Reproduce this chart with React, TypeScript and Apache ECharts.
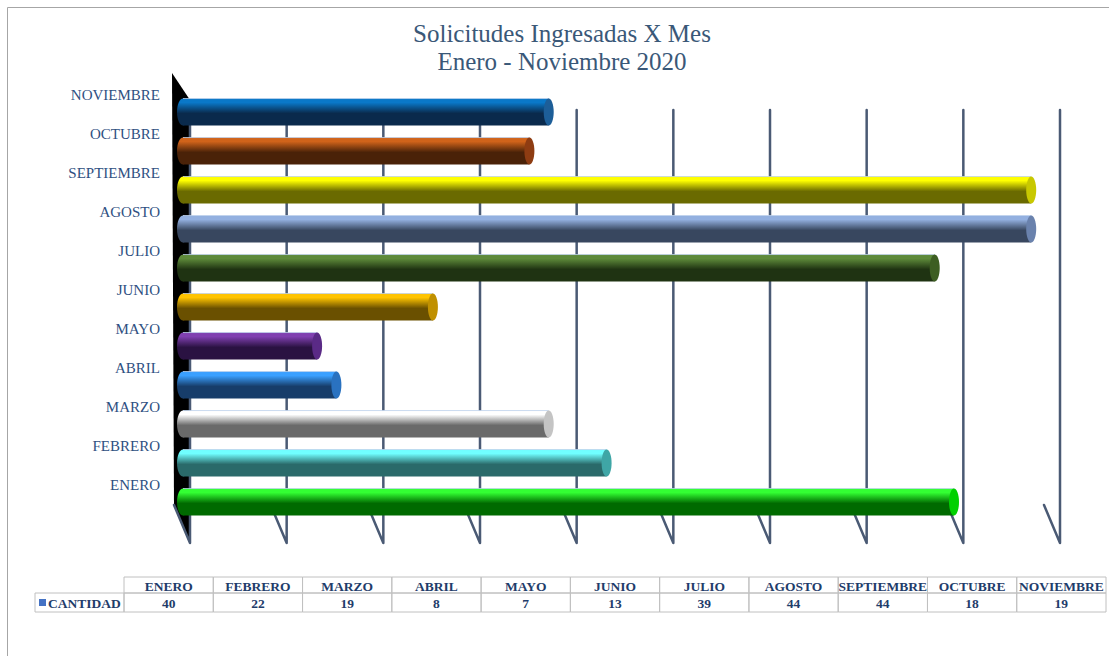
import React, { useEffect, useRef } from "react";
import * as echarts from "echarts";

const months = ["ENERO", "FEBRERO", "MARZO", "ABRIL", "MAYO", "JUNIO", "JULIO", "AGOSTO", "SEPTIEMBRE", "OCTUBRE", "NOVIEMBRE"];
const cantidad = [40, 22, 19, 8, 7, 13, 39, 44, 44, 18, 19];
const gridTicks = [0, 5, 10, 15, 20, 25, 30, 35, 40, 45];
const seriesName = "CANTIDAD";
const titleLines = ["Solicitudes Ingresadas X Mes", "Enero - Noviembre 2020"];
// [light top, dark bottom, end cap]
const barColors = [
  ["#33ff33", "#006a00", "#00d000"],
  ["#70ffff", "#2a6a6a", "#3fa6a6"],
  ["#ffffff", "#6a6a6a", "#c4c4c4"],
  ["#3aa0ff", "#173d6a", "#2a72c0"],
  ["#8040b0", "#2a1242", "#5a2a86"],
  ["#ffc400", "#6a5000", "#c09000"],
  ["#5e8a3a", "#1f3312", "#3d5e22"],
  ["#93b0e0", "#38475f", "#6a82ad"],
  ["#ffff00", "#6a6a00", "#c8c800"],
  ["#d0631a", "#4a2208", "#8e3c12"],
  ["#0a78c8", "#0a2a4c", "#1d5e98"],
];

export default function App() {
  const ref = useRef<HTMLDivElement>(null);
  useEffect(() => {
    if (!ref.current) return;
    const chart = echarts.init(ref.current, null, { renderer: "svg" });

    const tableLeft = 124;
    const tableRight = 1106;
    const cw = (tableRight - tableLeft) / months.length;
    const hdrTop = 577;
    const rowTop = 593;
    const rowBottom = 612;
    const txtColor = "#1f3d6b";
    const tFont = "bold 13.5px 'Liberation Serif'";
    const tableGraphics: any[] = [];
    months.forEach((m, i) => {
      const x = tableLeft + i * cw;
      tableGraphics.push({
        type: "rect",
        shape: { x, y: hdrTop, width: cw, height: rowTop - hdrTop },
        style: { fill: "none", stroke: "#c0c0c0", lineWidth: 1 },
      });
      tableGraphics.push({
        type: "rect",
        shape: { x, y: rowTop, width: cw, height: rowBottom - rowTop },
        style: { fill: "none", stroke: "#c0c0c0", lineWidth: 1 },
      });
      tableGraphics.push({
        type: "text",
        x: x + cw / 2,
        y: (hdrTop + rowTop) / 2 + 1,
        style: { text: m, align: "center", verticalAlign: "middle", fill: txtColor, font: tFont },
      });
      tableGraphics.push({
        type: "text",
        x: x + cw / 2,
        y: (rowTop + rowBottom) / 2 + 1,
        style: { text: String(cantidad[i]), align: "center", verticalAlign: "middle", fill: txtColor, font: tFont },
      });
    });
    tableGraphics.push({
      type: "rect",
      shape: { x: 35, y: rowTop, width: tableLeft - 35, height: rowBottom - rowTop },
      style: { fill: "none", stroke: "#c0c0c0", lineWidth: 1 },
    });
    tableGraphics.push({
      type: "rect",
      shape: { x: 39, y: 599, width: 7, height: 7 },
      style: { fill: "#4472c4" },
    });
    tableGraphics.push({
      type: "text",
      x: 48,
      y: (rowTop + rowBottom) / 2 + 1,
      style: { text: seriesName, align: "left", verticalAlign: "middle", fill: txtColor, font: tFont },
    });

    const option: any = {
      animation: false,
      backgroundColor: "#ffffff",
      graphic: [
        {
          type: "rect",
          shape: { x: 7.5, y: 7.5, width: 1120, height: 680 },
          style: { fill: "none", stroke: "#a6a6a6", lineWidth: 1 },
          silent: true,
        },
        {
          type: "text",
          x: 562,
          y: 33,
          style: { text: titleLines[0], align: "center", verticalAlign: "middle", fill: "#3a5878", font: "25px 'Liberation Serif'" },
        },
        {
          type: "text",
          x: 562,
          y: 61,
          style: { text: titleLines[1], align: "center", verticalAlign: "middle", fill: "#3a5878", font: "25px 'Liberation Serif'" },
        },
        ...tableGraphics,
      ],
      grid: [
        { left: 187, right: 53.5, top: 92.5, bottom: 134.5 },
        { left: 190, right: 49, top: 110, bottom: 113 },
        { left: 187, right: 53.5, top: 75, bottom: 152 },
      ],
      xAxis: [
        { type: "value", gridIndex: 0, min: 0, max: 45, show: false, splitLine: { show: false } },
        { type: "value", gridIndex: 1, min: 0, max: 45, show: false, splitLine: { show: false } },
        { type: "value", gridIndex: 2, min: 0, max: 45, show: false, splitLine: { show: false } },
      ],
      yAxis: [
        {
          type: "category",
          gridIndex: 0,
          data: months,
          axisLine: { show: false },
          axisTick: { show: false },
          splitLine: { show: false },
          axisLabel: { show: false },
        },
        { type: "value", gridIndex: 1, min: 0, max: 1, show: false, splitLine: { show: false } },
        {
          type: "category",
          gridIndex: 2,
          data: months,
          axisLine: { show: false },
          axisTick: { show: false },
          splitLine: { show: false },
          axisLabel: {
            margin: 27,
            color: "#2f5082",
            fontFamily: "Liberation Serif",
            fontSize: 15,
          },
        },
      ],
      series: [
        {
          type: "custom",
          xAxisIndex: 1,
          yAxisIndex: 1,
          z: 1,
          data: gridTicks.map((t) => [t]),
          renderItem: (params: any, api: any) => {
            const t = api.value(0);
            const top = api.coord([t, 1]);
            const bot = api.coord([t, 0]);
            const children: any[] = [];
            if (params.dataIndex === 0) {
              children.push({
                type: "polygon",
                shape: {
                  points: [
                    [bot[0] - 18, top[1] - 37],
                    [bot[0], top[1] - 10],
                    [bot[0], bot[1]],
                    [bot[0] - 16, bot[1] - 38],
                  ],
                },
                style: { fill: "#000000" },
              });
            }
            children.push({
              type: "polyline",
              shape: {
                points: [
                  [top[0], top[1]],
                  [bot[0], bot[1]],
                  [bot[0] - 16, bot[1] - 38],
                ],
              },
              style: { stroke: "#4a5a74", lineWidth: 2.5, fill: null, lineJoin: "round", lineCap: "round" },
            });
            return { type: "group", children };
          },
        },
        {
          type: "custom",
          name: seriesName,
          xAxisIndex: 0,
          yAxisIndex: 0,
          z: 5,
          data: cantidad.map((v, i) => [v, i]),
          renderItem: (params: any, api: any) => {
            const v = api.value(0);
            const idx = api.value(1);
            const p0 = api.coord([0, idx]);
            const p1 = api.coord([v, idx]);
            const h = api.size([0, 1])[1] * 0.69;
            const [light, dark, cap] = barColors[params.dataIndex];
            const grad = () =>
              new echarts.graphic.LinearGradient(0, 0, 0, 1, [
                { offset: 0, color: light },
                { offset: 0.15, color: light },
                { offset: 0.55, color: dark },
                { offset: 1, color: dark },
              ]);
            const y = p0[1] - h / 2;
            const xs = p0[0] - 4;
            const xe = p1[0] - 5;
            return {
              type: "group",
              children: [
                { type: "ellipse", shape: { cx: xs, cy: p0[1], rx: 6, ry: h / 2 }, style: { fill: grad() } },
                { type: "rect", shape: { x: xs, y, width: xe - xs, height: h }, style: { fill: grad() } },
                { type: "line", shape: { x1: xs, y1: y, x2: xe, y2: y }, style: { stroke: "rgba(190,210,235,0.8)", lineWidth: 1 } },
                { type: "ellipse", shape: { cx: xe, cy: p0[1], rx: 5, ry: h / 2 }, style: { fill: cap } },
              ],
            };
          },
        },
      ],
    };
    chart.setOption(option);
    return () => chart.dispose();
  }, []);
  return <div ref={ref} style={{ position: "absolute", left: 0, top: 0, width: 1109, height: 656 }} />;
}
